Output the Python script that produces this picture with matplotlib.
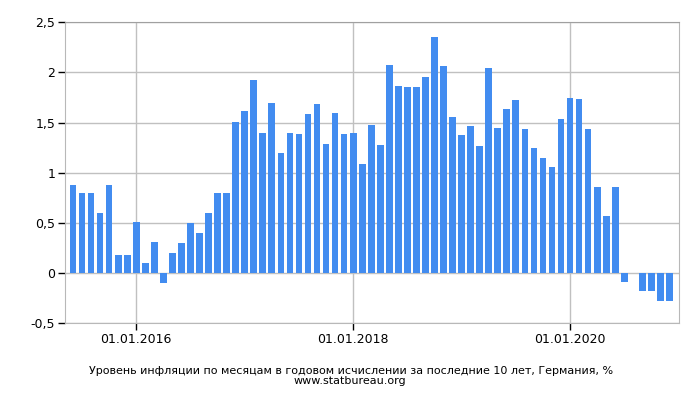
import matplotlib
matplotlib.use("Agg")
import matplotlib.pyplot as plt
from matplotlib.ticker import FuncFormatter

# Monthly YoY inflation, Germany, Jun 2015 - Dec 2020
months = [f"{m:02d}.{y}" for y in range(2015, 2021) for m in range(1, 13)][5:]
values = [
    0.88, 0.80, 0.80, 0.60, 0.88, 0.18, 0.18,            # Jun-Dec 2015
    0.51, 0.10, 0.31, -0.10, 0.20, 0.30, 0.50, 0.40, 0.60, 0.80, 0.80, 1.51,  # 2016
    1.62, 1.92, 1.40, 1.70, 1.20, 1.40, 1.39, 1.59, 1.69, 1.29, 1.60, 1.39,   # 2017
    1.40, 1.09, 1.48, 1.28, 2.07, 1.87, 1.86, 1.86, 1.95, 2.35, 2.06, 1.56,   # 2018
    1.38, 1.47, 1.27, 2.04, 1.45, 1.64, 1.73, 1.44, 1.25, 1.15, 1.06, 1.54,   # 2019
    1.75, 1.74, 1.44, 0.86, 0.57, 0.86, -0.09, 0.00, -0.18, -0.18, -0.28, -0.28,  # 2020
]
tick_months = ["01.2016", "01.2018", "01.2020"]
tick_labels = ["01.01.2016", "01.01.2018", "01.01.2020"]
yticks = [-0.5, 0, 0.5, 1, 1.5, 2, 2.5]
title_line1 = "Уровень инфляции по месяцам в годовом исчислении за последние 10 лет, Германия, %"
title_line2 = "www.statbureau.org"

plt.rcParams['font.family'] = ['DejaVu Sans']

fig = plt.figure(figsize=(7, 4), dpi=100)
ax = fig.add_axes([65/700, (400-323.3)/400, (678.7-65)/700, (323.3-22.3)/400])

x = list(range(len(values)))
ax.bar(x, values, width=0.74, color="#428CF0", zorder=3)

ax.set_xlim(-0.885, len(values) - 1 + 1.02)
ax.set_ylim(-0.5, 2.5)
ax.set_yticks(yticks)
ax.yaxis.set_major_formatter(FuncFormatter(lambda v, p: (f"{v:g}").replace(".", ",")))
ax.set_xticks([months.index(m) for m in tick_months])
ax.set_xticklabels(tick_labels)

ax.grid(True, color="#c0c0c0", linewidth=1, zorder=0)
for s in ["left", "bottom", "right"]:
    ax.spines[s].set_color("#b8b8b8")
ax.spines["top"].set_color("#a0a0a0")
ax.tick_params(axis="both", colors="black", length=5, width=1, labelsize=9, pad=2)

fig.text(351/700, 1 - 371/400, title_line1, ha="center", va="center", fontsize=8)
fig.text(350/700, 1 - 381.5/400, title_line2, ha="center", va="center", fontsize=8)

fig.savefig("out.png", dpi=100)
